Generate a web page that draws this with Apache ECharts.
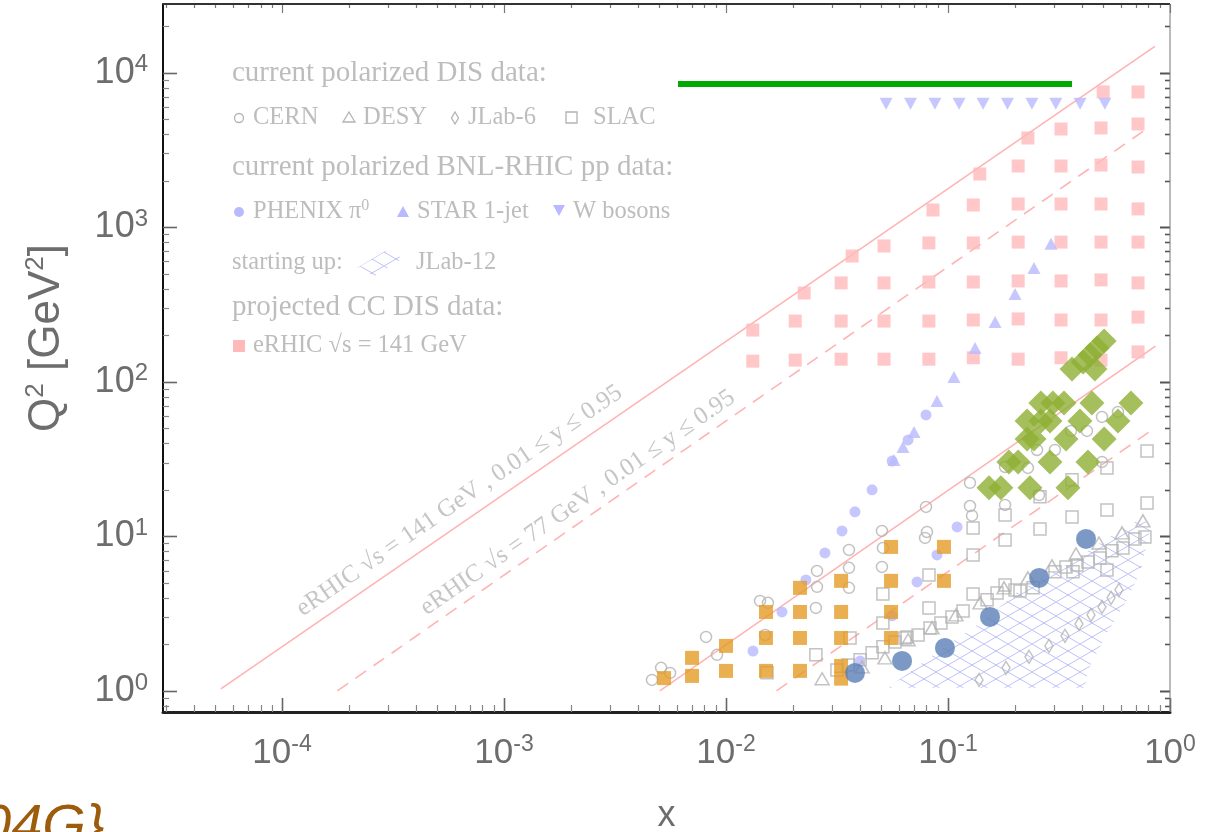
<!DOCTYPE html>
<html>
<head>
<meta charset="utf-8">
<script src="https://cdn.jsdelivr.net/npm/echarts@6/dist/echarts.min.js"></script>
<style>
  html, body { margin: 0; padding: 0; background: #ffffff; }
  #chart { width: 1223px; height: 832px; overflow: hidden; }
</style>
</head>
<body>
<div id="chart"></div>
<script>
// Axis ranges (x = Bjorken x, Q2 in GeV^2)
const xRange = [2.91e-5, 1];
const qRange = [0.73, 27800];

// eRHIC sqrt(s) = 141 GeV projected CC DIS bins
const eRHIC141 = [
  [0.0132, 216], [0.0132, 136],
  [0.0205, 247], [0.0205, 138],
  [0.0225, 375],
  [0.033, 436], [0.033, 247], [0.033, 140],
  [0.037, 651],
  [0.0515, 756], [0.0515, 436], [0.0515, 247], [0.0515, 140],
  [0.082, 791], [0.082, 442], [0.082, 247], [0.082, 140],
  [0.0856, 1292],
  [0.13, 1392], [0.13, 791], [0.13, 442], [0.13, 251], [0.13, 143],
  [0.139, 2208],
  [0.207, 2488], [0.207, 1413], [0.207, 801], [0.207, 449], [0.207, 255], [0.207, 140],
  [0.229, 3777],
  [0.323, 4317], [0.323, 2488], [0.323, 1413], [0.323, 801], [0.323, 449], [0.323, 251], [0.323, 143],
  [0.5, 7497], [0.489, 4385], [0.489, 2526], [0.489, 1413], [0.489, 801], [0.489, 456], [0.489, 251], [0.489, 138],
  [0.718, 7497], [0.718, 4652], [0.718, 2450], [0.718, 1313], [0.718, 801], [0.718, 436], [0.718, 262], [0.718, 156]
];

// RHIC W bosons
const wBosonX = [0.0526, 0.0678, 0.0873, 0.1122, 0.1439, 0.1853, 0.2388, 0.306, 0.3936, 0.509];
const wBosonQ2 = 6300;

// STAR 1-jet
const star1jet = [
  [0.0571, 31.2], [0.0627, 37.9], [0.0703, 47.3], [0.0892, 75.1], [0.1064, 107.5],
  [0.1324, 165.5], [0.163, 244], [0.2004, 370], [0.244, 545], [0.291, 780]
];

// PHENIX pi0
const phenixPi0 = [
  [0.01323, 1.81], [0.01787, 3.24], [0.0229, 5.22], [0.0279, 7.81], [0.0333, 10.84],
  [0.0381, 14.4], [0.0455, 20.0], [0.056, 30.7], [0.0661, 42.0], [0.0796, 61.0],
  [0.0402, 1.56], [0.056, 3.06], [0.0725, 5.07], [0.0892, 7.58], [0.1099, 11.5]
];

// CERN
const cern = [
  [0.00464, 1.178], [0.0051, 1.409], [0.0056, 1.307], [0.00813, 2.235], [0.00911, 1.71],
  [0.01423, 3.82], [0.01545, 3.71], [0.015, 2.30], [0.0257, 5.97], [0.0257, 4.71],
  [0.0254, 3.44], [0.0358, 8.17], [0.0358, 6.25], [0.0358, 4.64], [0.0504, 10.84],
  [0.0509, 8.41], [0.0504, 6.34], [0.0796, 15.5], [0.0804, 10.67], [0.0788, 9.77],
  [0.1256, 22.2], [0.1256, 15.7], [0.1283, 13.6], [0.1807, 28.1], [0.1807, 15.96],
  [0.2291, 27.7], [0.2518, 36.2], [0.257, 18.5], [0.3033, 36.2], [0.358, 48.1],
  [0.4227, 48.1], [0.494, 59.2], [0.583, 63.8], [0.494, 30.3]
];

// DESY
const desy = [
  [0.0271, 1.197], [0.041, 1.43], [0.052, 1.635], [0.0661, 2.14], [0.0847, 2.556],
  [0.1086, 3.10], [0.1394, 3.71], [0.1788, 4.64], [0.2291, 5.38], [0.294, 6.44],
  [0.3773, 7.69], [0.4786, 9.06], [0.608, 10.52], [0.7553, 12.58]
];

// JLab-6
const jlab6 = [
  [0.138, 1.178], [0.1825, 1.409], [0.2317, 1.66], [0.285, 1.954], [0.3365, 2.27],
  [0.389, 2.71], [0.4406, 3.10], [0.494, 3.49], [0.5425, 4.0], [0.589, 4.50]
];

// SLAC
const slac = [
  [0.788, 35.7], [0.52, 27.7], [0.362, 23.2], [0.2596, 18.0], [0.1807, 13.75], [0.1297, 11.33],
  [0.788, 16.4], [0.52, 14.8], [0.362, 13.35], [0.2596, 11.16], [0.1807, 9.48], [0.1297, 7.58],
  [0.0821, 5.62], [0.0509, 4.24], [0.1297, 4.24], [0.0821, 3.44], [0.0509, 2.75], [0.0362, 2.20],
  [0.064, 2.20], [0.0153, 1.31], [0.0254, 1.71],
  [0.0316, 1.367], [0.0355, 1.473], [0.0402, 1.587], [0.0455, 1.762], [0.0509, 1.927],
  [0.0577, 2.075], [0.0654, 2.235], [0.0733, 2.30], [0.083, 2.556], [0.0929, 2.75],
  [0.1042, 3.01], [0.1169, 3.29], [0.15, 3.88], [0.1663, 4.30], [0.1807, 4.85],
  [0.2004, 4.50], [0.211, 4.43], [0.2415, 4.64], [0.3033, 5.89], [0.34, 6.34],
  [0.3656, 5.89], [0.381, 6.53], [0.4272, 6.83], [0.484, 7.25], [0.52, 6.06],
  [0.548, 8.05], [0.614, 8.41], [0.695, 9.62], [0.771, 9.91]
];

// JLab-12 coverage outline
const jlab12 = [
  [0.0537, 1.046], [0.092, 1.84], [0.1468, 2.88], [0.2046, 4.37], [0.33, 6.34],
  [0.509, 9.48], [0.7553, 13.35], [0.813, 11.0], [0.733, 5.80], [0.614, 3.49],
  [0.52, 2.37], [0.427, 1.367], [0.414, 1.046]
];

// Highlighted sets
const blueSet = [[0.0381, 1.307], [0.0621, 1.563], [0.0969, 1.897], [0.1546, 3.01], [0.2573, 5.38], [0.4185, 9.62]];
const orangeSet = [
  [0.00526, 1.21], [0.00703, 1.635], [0.00703, 1.25], [0.01, 1.954], [0.01, 1.347],
  [0.01514, 3.24], [0.01514, 2.20], [0.01514, 1.347], [0.02154, 4.64], [0.02154, 3.24],
  [0.02154, 2.20], [0.02154, 1.347], [0.033, 5.15], [0.033, 3.24], [0.033, 2.20],
  [0.033, 1.45], [0.033, 1.20], [0.0554, 8.54], [0.0554, 5.15], [0.0554, 3.24],
  [0.0554, 2.20], [0.0959, 8.54], [0.0959, 5.15]
];
const greenSet = [
  [0.505, 183.6], [0.469, 165.5], [0.436, 149], [0.406, 134.3], [0.362, 121], [0.459, 121],
  [0.262, 72.9], [0.297, 72.9], [0.333, 72.9], [0.445, 72.9], [0.667, 72.9],
  [0.227, 55.8], [0.262, 55.8], [0.288, 55.8], [0.393, 55.8], [0.583, 55.8],
  [0.227, 42.6], [0.244, 42.6], [0.34, 42.6], [0.505, 42.6],
  [0.188, 30.3], [0.207, 30.3], [0.288, 30.3], [0.427, 30.3],
  [0.153, 20.6], [0.173, 20.6], [0.234, 20.6], [0.347, 20.6]
];
const greenBand = [[0.00608, 8440], [0.362, 8440]];

// eRHIC kinematic limits (end points)
const limit141Upper = [[5.3e-5, 1.03], [0.855, 14800]];
const limit141Lower = [[0.00503, 1], [0.86, 170]];
const limit77Upper = [[1.775e-4, 1], [0.78, 4300]];
const limit77Lower = [[0.01687, 1], [0.8, 47]];

// Tick label decades
const xDecades = [-4, -3, -2, -1, 0];
const qDecades = [0, 1, 2, 3, 4];

const SANS = "'Liberation Sans', Arial, Helvetica, sans-serif";
const SERIF = "'Liberation Serif', 'Times New Roman', 'DejaVu Serif', serif";
const LEG = '#bdbdbd';
const GRAY = '#b3b3b3';
const LAV = '#b9b9ff';
const PINK = '#ffb9b9';

// cross-hatch fill for the JLab-12 region
function makeHatch(w, h, color) {
  const c = document.createElement('canvas');
  c.width = w; c.height = h;
  const g = c.getContext('2d');
  g.strokeStyle = color;
  g.lineWidth = 1;
  g.beginPath();
  g.moveTo(0, 0); g.lineTo(w, h);
  g.moveTo(0, h); g.lineTo(w, 0);
  g.stroke();
  return { image: c, repeat: 'repeat' };
}
const hatch = makeHatch(24, 14, 'rgba(125,135,240,0.5)');

function powLabel(v, allowed) {
  const e = Math.log10(v);
  const r = Math.round(e);
  if (Math.abs(e - r) > 1e-6 || allowed.indexOf(r) < 0) return '';
  return '{b|10}{s|' + r + '}';
}

const chart = echarts.init(document.getElementById('chart'), null, { renderer: 'canvas' });

// frame and logarithmic ticks on all four sides
function renderFrame(params, api) {
  if (params.dataIndex !== 0) return null;
  const cs = params.coordSys;
  const L = cs.x, T = cs.y, R = cs.x + cs.width, B = cs.y + cs.height;
  const kids = [];
  const seg = (x1, y1, x2, y2, stroke, w) => kids.push({
    type: 'line', shape: { x1, y1, x2, y2 }, style: { stroke, lineWidth: w }
  });
  for (let d = -5; d <= 0; d++) {
    for (let k = 1; k <= 9; k++) {
      const v = k * Math.pow(10, d);
      if (v < xRange[0] || v > xRange[1] * 1.0001) continue;
      const px = Math.round(api.coord([v, 1])[0]) + 0.5;
      const major = k === 1;
      seg(px, B, px, B - (major ? 14 : 7), major ? '#666' : '#888', major ? 1.6 : 1.2);
      seg(px, T, px, T + (major ? 9 : 4), '#777', 1.2);
    }
  }
  for (let d = -1; d <= 4; d++) {
    for (let k = 1; k <= 9; k++) {
      const v = k * Math.pow(10, d);
      if (v < qRange[0] || v > qRange[1]) continue;
      const py = Math.round(api.coord([1e-3, v])[1]) + 0.5;
      const major = k === 1;
      seg(L, py, L + (major ? 14 : 6), py, major ? '#666' : '#888', major ? 1.6 : 1.2);
      seg(R, py, R - (major ? 10 : 5), py, '#555', major ? 2 : 1.6);
    }
  }
  seg(L, T, R, T, '#333', 2);
  seg(R, T, R, B, '#777', 1);
  return { type: 'group', children: kids };
}

function renderHatch(params, api) {
  if (params.dataIndex !== 0) return null;
  const pts = jlab12.map(p => api.coord(p));
  return { type: 'polygon', shape: { points: pts }, style: { fill: hatch, stroke: null } };
}

const hollow = (c) => ({ color: 'rgba(0,0,0,0)', borderColor: c, borderWidth: 1.5 });

const option = {
  animation: false,
  backgroundColor: '#ffffff',
  grid: { left: 163, right: 53, top: 4, bottom: 120, containLabel: false, outerBoundsMode: 'none' },
  xAxis: {
    type: 'log', logBase: 10, min: xRange[0], max: xRange[1],
    name: 'x', nameLocation: 'middle', nameGap: 86,
    nameTextStyle: { fontFamily: SANS, fontSize: 36, color: '#6d6d6d' },
    axisLine: { show: true, lineStyle: { color: '#222', width: 3 } },
    axisTick: { show: false }, minorTick: { show: false },
    splitLine: { show: false }, minorSplitLine: { show: false },
    axisLabel: {
      margin: 21,
      formatter: v => powLabel(v, xDecades),
      rich: {
        b: { fontFamily: SANS, fontSize: 35, color: '#6d6d6d', lineHeight: 40 },
        s: { fontFamily: SANS, fontSize: 23, color: '#6d6d6d', lineHeight: 24, verticalAlign: 'top' }
      }
    }
  },
  yAxis: {
    type: 'log', logBase: 10, min: qRange[0], max: qRange[1],
    name: '{q|Q}{s|2}{q| [GeV}{s|2}{q|]}', nameLocation: 'middle', nameGap: 92, nameRotate: 90,
    nameTextStyle: {
      padding: [0, 0, 0, 40],
      rich: {
        q: { fontFamily: SANS, fontSize: 44, color: '#6d6d6d', lineHeight: 48 },
        s: { fontFamily: SANS, fontSize: 26, color: '#6d6d6d', lineHeight: 28, verticalAlign: 'top' }
      }
    },
    axisLine: { show: true, lineStyle: { color: '#111', width: 2 } },
    axisTick: { show: false }, minorTick: { show: false },
    splitLine: { show: false }, minorSplitLine: { show: false },
    axisLabel: {
      margin: 15,
      formatter: v => powLabel(v, qDecades),
      rich: {
        b: { fontFamily: SANS, fontSize: 36, color: '#6d6d6d', lineHeight: 40 },
        s: { fontFamily: SANS, fontSize: 24, color: '#6d6d6d', lineHeight: 26, verticalAlign: 'top' }
      }
    }
  },
  series: [
    { type: 'custom', name: 'JLab-12', data: jlab12, renderItem: renderHatch, z: 1, silent: true },
    { type: 'line', data: limit141Upper, symbol: 'none', z: 2, silent: true,
      lineStyle: { color: '#ffb3b3', width: 1.6 } },
    { type: 'line', data: limit141Lower, symbol: 'none', z: 2, silent: true,
      lineStyle: { color: '#ffb3b3', width: 1.6 } },
    { type: 'line', data: limit77Upper, symbol: 'none', z: 2, silent: true,
      lineStyle: { color: '#ffb3b3', width: 1.6, type: [13, 9] } },
    { type: 'line', data: limit77Lower, symbol: 'none', z: 2, silent: true,
      lineStyle: { color: '#ffb3b3', width: 1.6, type: [13, 9] } },
    { type: 'scatter', name: 'eRHIC 141', data: eRHIC141, symbol: 'rect', symbolSize: 13, z: 3,
      itemStyle: { color: PINK } },
    { type: 'scatter', name: 'W bosons', data: wBosonX.map(x => [x, wBosonQ2]), symbol: 'triangle',
      symbolRotate: 180, symbolSize: [13, 12], z: 3, itemStyle: { color: LAV } },
    { type: 'scatter', name: 'STAR 1-jet', data: star1jet, symbol: 'triangle', symbolSize: [13, 12], z: 3,
      itemStyle: { color: LAV } },
    { type: 'scatter', name: 'PHENIX', data: phenixPi0, symbol: 'circle', symbolSize: 11, z: 3,
      itemStyle: { color: LAV } },
    { type: 'scatter', name: 'CERN', data: cern, symbol: 'circle', symbolSize: 11, z: 4, itemStyle: hollow(GRAY) },
    { type: 'scatter', name: 'DESY', data: desy, symbol: 'triangle', symbolSize: [14, 12], z: 4, itemStyle: hollow(GRAY) },
    { type: 'scatter', name: 'JLab-6', data: jlab6, symbol: 'diamond', symbolSize: [8, 13], z: 4, itemStyle: hollow(GRAY) },
    { type: 'scatter', name: 'SLAC', data: slac, symbol: 'rect', symbolSize: 12, z: 4, itemStyle: hollow(GRAY) },
    { type: 'scatter', name: 'orange', data: orangeSet, symbol: 'rect', symbolSize: 14, z: 5,
      itemStyle: { color: '#e49b26' } },
    { type: 'scatter', name: 'blue', data: blueSet, symbol: 'circle', symbolSize: 20, z: 6,
      itemStyle: { color: '#5b7fb7' } },
    { type: 'scatter', name: 'green', data: greenSet, symbol: 'diamond', symbolSize: 25, z: 6,
      itemStyle: { color: '#8daf33' } },
    { type: 'line', data: greenBand, symbol: 'none', z: 6, silent: true,
      lineStyle: { color: '#00aa00', width: 6, cap: 'butt' } },
    { type: 'custom', data: [[1e-3, 1]], renderItem: renderFrame, z: 10, silent: true }
  ]
};
chart.setOption(option);

// ---- annotations ----
const legendShapes = [];
function txt(x, y, text, size, extra) {
  legendShapes.push(Object.assign({
    type: 'text', x, y, silent: true,
    style: { text, fontFamily: SERIF, fontSize: size, fill: LEG, align: 'left', verticalAlign: 'middle' }
  }, extra || {}));
}
const HS = 29, IS = 24.5;
txt(232, 73, 'current polarized DIS data:', HS);
legendShapes.push({ type: 'circle', shape: { cx: 239, cy: 118, r: 4.5 }, style: { fill: null, stroke: GRAY, lineWidth: 1.3 } });
txt(253, 118, 'CERN', IS);
legendShapes.push({ type: 'polygon', shape: { points: [[349, 112], [355, 122], [343, 122]] }, style: { fill: null, stroke: GRAY, lineWidth: 1.3 } });
txt(363, 118, 'DESY', IS);
legendShapes.push({ type: 'polygon', shape: { points: [[455, 112], [458.5, 118], [455, 124], [451.5, 118]] }, style: { fill: null, stroke: GRAY, lineWidth: 1.3 } });
txt(468, 118, 'JLab-6', IS);
legendShapes.push({ type: 'rect', shape: { x: 566, y: 112, width: 11, height: 11 }, style: { fill: null, stroke: GRAY, lineWidth: 1.3 } });
txt(593, 118, 'SLAC', IS);

txt(232, 167, 'current polarized BNL-RHIC pp data:', HS);
legendShapes.push({ type: 'circle', shape: { cx: 239, cy: 212, r: 5 }, style: { fill: LAV } });
legendShapes.push({
  type: 'text', x: 253, y: 212, silent: true,
  style: {
    text: '{t|PHENIX π}{u|0}', align: 'left', verticalAlign: 'middle',
    rich: {
      t: { fontFamily: SERIF, fontSize: IS, fill: LEG, lineHeight: 28 },
      u: { fontFamily: SERIF, fontSize: 16, fill: LEG, lineHeight: 16, verticalAlign: 'top' }
    }
  }
});
legendShapes.push({ type: 'polygon', shape: { points: [[403, 206], [409, 217], [397, 217]] }, style: { fill: LAV } });
txt(417, 212, 'STAR 1-jet', IS);
legendShapes.push({ type: 'polygon', shape: { points: [[553, 205], [565, 205], [559, 216]] }, style: { fill: LAV } });
txt(573, 212, 'W bosons', IS);

txt(232, 263, 'starting up:', IS);
legendShapes.push({ type: 'polygon', shape: { points: [[357, 268], [385, 251], [403, 258], [375, 276]] }, style: { fill: hatch } });
txt(416, 263, 'JLab-12', IS);

txt(232, 307, 'projected CC DIS data:', HS);
legendShapes.push({ type: 'rect', shape: { x: 233, y: 340, width: 12, height: 12 }, style: { fill: PINK } });
txt(253, 346, 'eRHIC √s = 141 GeV', IS);

// labels running along the eRHIC limit lines
function alongLine(anchor, a, b, text) {
  const p = chart.convertToPixel({ gridIndex: 0 }, anchor);
  const pa = chart.convertToPixel({ gridIndex: 0 }, a);
  const pb = chart.convertToPixel({ gridIndex: 0 }, b);
  const ang = -Math.atan2(pb[1] - pa[1], pb[0] - pa[0]);
  legendShapes.push({
    type: 'text', x: p[0], y: p[1], rotation: ang, silent: true,
    style: { text, fontFamily: SERIF, fontSize: 25, fill: '#c6c6c6', align: 'center', verticalAlign: 'middle' }
  });
}
alongLine([6.3e-4, 17.0], limit141Upper[0], limit141Upper[1], 'eRHIC √s = 141 GeV , 0.01 ≤ y ≤ 0.95');
alongLine([2.15e-3, 16.5], limit77Upper[0], limit77Upper[1], 'eRHIC √s = 77 GeV , 0.01 ≤ y ≤ 0.95');

// partially visible caption in the lower-left corner
legendShapes.push({
  type: 'text', x: -20, y: 799, silent: true,
  style: { text: '04G}', fontFamily: SANS, fontSize: 56, fontStyle: 'italic', fill: '#9c5c0c', align: 'left', verticalAlign: 'top' }
});

chart.setOption({ graphic: legendShapes });
</script>
</body>
</html>
